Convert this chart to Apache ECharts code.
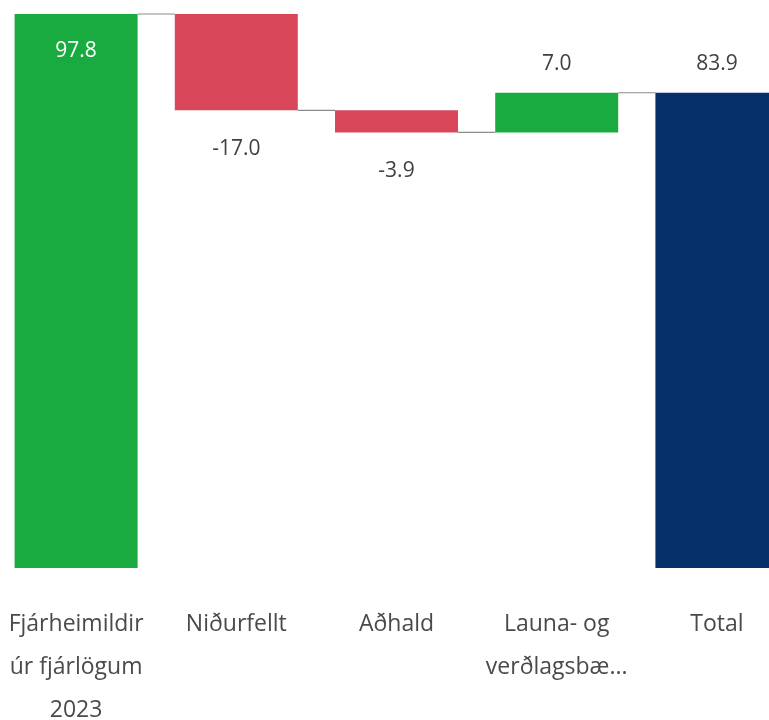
<!DOCTYPE html>
<html>
<head>
<meta charset="utf-8">
<script src="https://cdn.jsdelivr.net/npm/echarts@6/dist/echarts.min.js"></script>
<style>
  html, body { margin: 0; padding: 0; background: #fff; }
  #main { width: 769px; height: 720px; }
</style>
</head>
<body>
<div id="main"></div>
<script>
// flokkar og gildi
var categories = ['Fjárheimildir\núr fjárlögum\n2023', 'Niðurfellt', 'Aðhald', 'Launa- og\nverðlagsbæ...', 'Total'];
var changes = [97.8, -17.0, -3.9, 7.0];
var total = 83.9;

var upColor = '#1aab40';
var downColor = '#d8475a';
var totalColor = '#05306a';

// reikna grunn og hæð stuðla
var base = [];
var height = [];
var levels = [];
var run = 0;
changes.forEach(function (v) {
  var start = run;
  run = +(run + v).toFixed(1);
  base.push(Math.min(start, run));
  height.push({
    value: Math.abs(v),
    raw: v,
    itemStyle: { color: v >= 0 ? upColor : downColor }
  });
  levels.push(run);
});
base.push(0);
height.push({ value: total, raw: total, itemStyle: { color: totalColor } });

var myChart = echarts.init(document.getElementById('main'));
myChart.setOption({
  animation: false,
  grid: { left: -4, right: -28, top: 14, bottom: 152, outerBoundsMode: 'none', containLabel: false },
  xAxis: {
    type: 'category',
    data: categories,
    axisLine: { show: false },
    axisTick: { show: false },
    axisLabel: {
      interval: 0,
      margin: 35,
      color: '#4a4a4a',
      fontFamily: 'Open Sans',
      fontSize: 23,
      lineHeight: 43
    }
  },
  yAxis: {
    type: 'value',
    min: 0,
    max: 97.8,
    show: false,
    splitLine: { show: false }
  },
  series: [{
    type: 'bar',
    stack: 'w',
    data: base,
    barWidth: 123,
    itemStyle: { color: 'transparent' },
    silent: true
  }, {
    type: 'bar',
    stack: 'w',
    data: height,
    barWidth: 123,
    label: {
      show: true,
      fontFamily: 'Open Sans',
      fontSize: 21,
      color: '#404040',
      formatter: function (p) {
        return p.data.raw.toFixed(1);
      }
    }
  }, {
    type: 'custom',
    silent: true,
    data: levels.map(function (l, i) { return [i, l]; }),
    renderItem: function (params, api) {
      var i = api.value(0);
      var l = api.value(1);
      var p1 = api.coord([i, l]);
      var p2 = api.coord([i + 1, l]);
      return {
        type: 'line',
        shape: { x1: p1[0] + 123 / 2, y1: p1[1], x2: p2[0] - 123 / 2, y2: p2[1] },
        style: { stroke: '#8c8c8c', lineWidth: 1.2 }
      };
    }
  }]
});

// staðsetning merkja eftir stuðlum
var opt = myChart.getOption();
var data = opt.series[1].data.map(function (d, i) {
  var lab;
  if (i === 0) {
    lab = { position: 'insideTop', distance: 27, color: '#ffffff' };
  } else if (d.raw < 0) {
    lab = { position: 'bottom', distance: 28 };
  } else {
    lab = { position: 'top', distance: 18 };
  }
  return Object.assign({}, d, { label: lab });
});
myChart.setOption({ series: [{}, { data: data }] });
</script>
</body>
</html>
